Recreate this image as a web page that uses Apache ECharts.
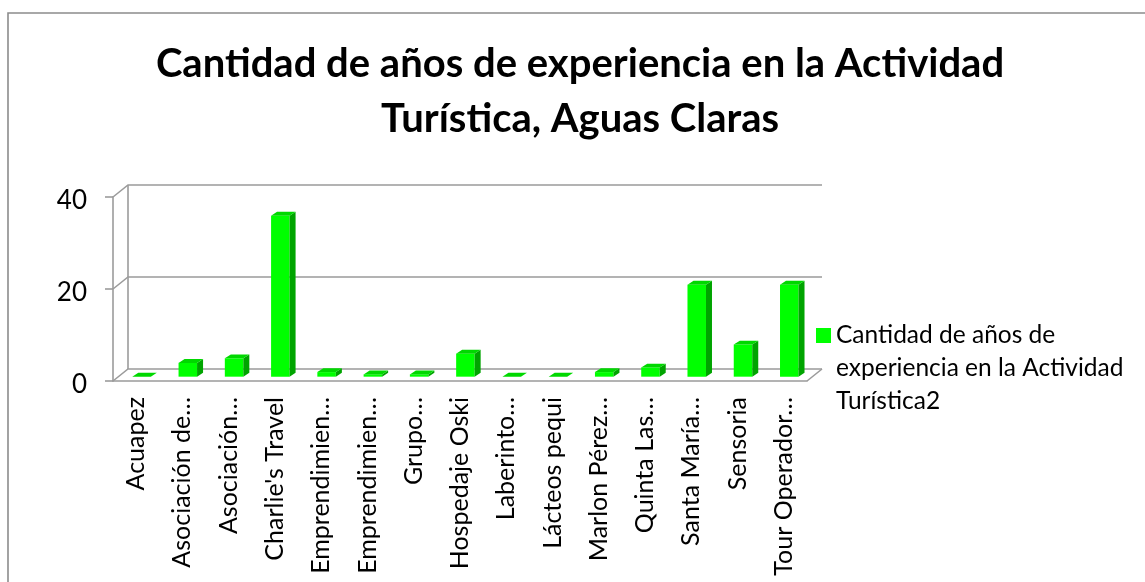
<!DOCTYPE html>
<html>
<head>
<meta charset="utf-8">
<script src="https://cdn.jsdelivr.net/npm/echarts@6/dist/echarts.min.js"></script>
<style>
    html, body { margin: 0; padding: 0; background: #fff; }
    #chart { width: 1145px; height: 582px; }
</style>
</head>
<body>
<div id="chart"></div>
<script>
    // data
    const categories = ["Acuapez", "Asociación de…", "Asociación…", "Charlie's Travel", "Emprendimien…",
        "Emprendimien…", "Grupo…", "Hospedaje Oski", "Laberinto…", "Lácteos pequi", "Marlon Pérez…",
        "Quinta Las…", "Santa María…", "Sensoria", "Tour Operador…"];
    const years = [0, 3, 4, 35, 1, 0.5, 0.5, 5, 0, 0, 1, 2, 20, 7, 20];
    const yTicks = [0, 20, 40];
    const seriesName = 'Cantidad de años de experiencia en la Actividad Turística2';
    const legendLines = ['Cantidad de años de', 'experiencia en la Actividad', 'Turística2'];
    const titleLines = ['Cantidad de años de experiencia en la Actividad', 'Turística, Aguas Claras'];

    const FONT = 'Lato, "Open Sans", sans-serif';
    const GREY = '#9b9b9b';
    // fake 3d: wall depth and where the bars sit inside it
    const DEPTH_X = 15, DEPTH_Y = -12;
    const BAR_AT = 0.36, BAR_DEPTH = 0.4, BAR_WIDTH = 0.4;

    function renderWall(params, api) {
        let cs = params.coordSys;
        let x0 = cs.x, x1 = cs.x + cs.width;
        let children = [];
        yTicks.forEach(function (v) {
            let p = api.coord([0, v]);
            children.push({
                type: 'polyline',
                shape: {points: [[x0, p[1]], [x0 + DEPTH_X, p[1] + DEPTH_Y], [x1 + DEPTH_X, p[1] + DEPTH_Y]]},
                style: {stroke: GREY, lineWidth: 1.6, fill: null}
            });
        });
        let lo = api.coord([0, yTicks[0]])[1], hi = api.coord([0, yTicks[yTicks.length - 1]])[1];
        children.push({
            type: 'line',
            shape: {x1: x0 + DEPTH_X, y1: lo + DEPTH_Y, x2: x0 + DEPTH_X, y2: hi + DEPTH_Y},
            style: {stroke: GREY, lineWidth: 1.6}
        });
        children.push({
            type: 'line',
            shape: {x1: x1 + DEPTH_X, y1: lo + DEPTH_Y, x2: x1, y2: lo},
            style: {stroke: GREY, lineWidth: 1.6}
        });
        return {type: 'group', children: children};
    }

    function renderBar(params, api) {
        let i = api.value(0);
        let base = api.coord([i, 0]);
        let top = api.coord([i, api.value(1)]);
        let band = api.size([1, 0])[0];
        let w = band * BAR_WIDTH;
        let ox = DEPTH_X * BAR_AT, oy = DEPTH_Y * BAR_AT;
        let dx = DEPTH_X * BAR_DEPTH, dy = DEPTH_Y * BAR_DEPTH * 0.8;
        let l = base[0] + ox - w / 2, r = base[0] + ox + w / 2;
        let b = base[1] + oy, t = top[1] + oy;
        return {
            type: 'group',
            children: [
                {type: 'rect', shape: {x: l, y: t, width: w, height: b - t}, style: {fill: '#00ff00'}},
                {type: 'polygon', shape: {points: [[r, b], [r, t], [r + dx, t + dy], [r + dx, b + dy]]}, style: {fill: '#00a400'}},
                {type: 'polygon', shape: {points: [[l, t], [r, t], [r + dx, t + dy], [l + dx, t + dy]]}, style: {fill: '#00d800'}}
            ]
        };
    }

    let chart = echarts.init(document.getElementById('chart'));
    chart.setOption({
        animation: false,
        backgroundColor: '#fff',
        title: {
            text: titleLines.join('\n'),
            left: 580,
            top: 37,
            padding: 0,
            textAlign: 'center',
            textStyle: {fontFamily: FONT, fontWeight: 'bold', fontSize: 40, lineHeight: 55, color: '#000'}
        },
        legend: {
            data: [{name: seriesName, icon: 'rect', itemStyle: {color: '#00ff00'}}],
            left: 816,
            top: 253,
            padding: 0,
            itemWidth: 15,
            itemHeight: 15,
            formatter: function () { return '\n\n' + legendLines.join('\n'); },
            textStyle: {fontFamily: FONT, fontSize: 24.5, lineHeight: 33, color: '#000'}
        },
        grid: {left: 113, right: 338, top: 197, bottom: 201, outerBoundsMode: 'none'},
        xAxis: {
            type: 'category',
            data: categories,
            axisLine: {lineStyle: {color: GREY, width: 1.6}},
            axisTick: {length: 5, lineStyle: {color: GREY, width: 1.6}},
            axisLabel: {interval: 0, rotate: 90, margin: 16, fontFamily: FONT, fontSize: 25, color: '#000'}
        },
        yAxis: {
            type: 'value',
            min: 0,
            max: 40,
            interval: 20,
            splitLine: {show: false},
            axisLine: {show: true, lineStyle: {color: GREY, width: 1.6}},
            axisTick: {show: true, length: 8, lineStyle: {color: GREY, width: 1.6}},
            axisLabel: {
                margin: 26,
                formatter: function (v) { return '{n|' + v + '}'; },
                rich: {n: {fontFamily: FONT, fontSize: 26, color: '#000', padding: [7, 0, 0, 0]}}
            }
        },
        graphic: [{
            type: 'rect',
            shape: {x: 8, y: 13, width: 1300, height: 700},
            style: {fill: null, stroke: '#8c8c8c', lineWidth: 1.6},
            silent: true
        }],
        series: [
            {type: 'custom', name: 'wall', renderItem: renderWall, data: [[0, 0]], silent: true},
            {
                type: 'custom',
                name: seriesName,
                itemStyle: {color: '#00ff00'},
                renderItem: renderBar,
                encode: {x: 0, y: 1},
                data: years.map(function (v, i) { return [i, v]; })
            }
        ]
    });
</script>
</body>
</html>
